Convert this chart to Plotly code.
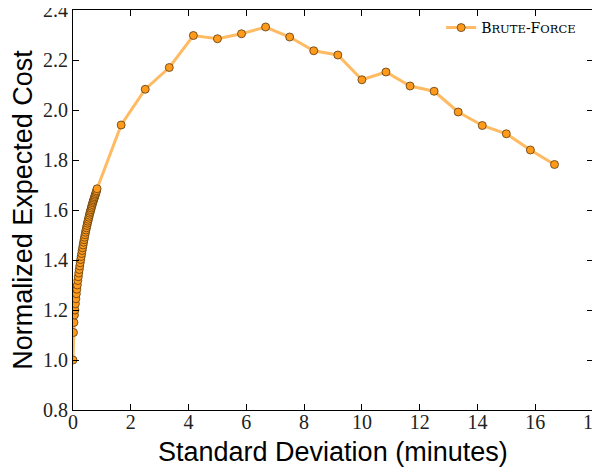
import plotly.graph_objects as go

# Dense region (x in minutes)
x_dense = [0.0, 0.0167, 0.0333, 0.05, 0.0667, 0.0833, 0.1, 0.1167, 0.1333, 0.15,
           0.1667, 0.1833, 0.2, 0.2167, 0.2333, 0.25, 0.2667, 0.2833, 0.3, 0.3167,
           0.3333, 0.35, 0.3667, 0.3833, 0.4, 0.4167, 0.4333, 0.45, 0.4667, 0.4833,
           0.5, 0.5167, 0.5333, 0.55, 0.5667, 0.5833, 0.6, 0.6167, 0.6333, 0.65,
           0.6667, 0.6833, 0.7, 0.7167, 0.7333, 0.75, 0.7667, 0.7833, 0.8, 0.8167, 0.8333]
y_dense = [1.000, 1.110, 1.150, 1.180, 1.200, 1.225, 1.245, 1.265, 1.283, 1.300,
           1.318, 1.333, 1.348, 1.362, 1.376, 1.389, 1.402, 1.414, 1.426, 1.438,
           1.449, 1.460, 1.471, 1.481, 1.491, 1.501, 1.511, 1.520, 1.529, 1.538,
           1.547, 1.555, 1.563, 1.571, 1.579, 1.587, 1.594, 1.601, 1.608, 1.615,
           1.622, 1.629, 1.635, 1.641, 1.647, 1.653, 1.659, 1.665, 1.671, 1.677, 1.685]
# Sparse region
x_sparse = [1.667, 2.5, 3.333, 4.167, 5.0, 5.833, 6.667, 7.5, 8.333, 9.167,
            10.0, 10.833, 11.667, 12.5, 13.333, 14.167, 15.0, 15.833, 16.667]
y_sparse = [1.940, 2.083, 2.170, 2.298, 2.285, 2.305, 2.332, 2.292, 2.237, 2.220,
            2.121, 2.152, 2.096, 2.075, 1.992, 1.938, 1.905, 1.840, 1.782]

x_all = x_dense + x_sparse
y_all = y_dense + y_sparse

x_ticks = [0, 2, 4, 6, 8, 10, 12, 14, 16, 18]
y_ticks = [0.8, 1.0, 1.2, 1.4, 1.6, 1.8, 2.0, 2.2, 2.4]

x_title = "Standard Deviation (minutes)"
y_title = "Normalized Expected Cost"

legend_name = ('B<span style="font-size:11.5px">RUTE</span>-F'
               '<span style="font-size:11.5px">ORCE</span>')

fig = go.Figure()
fig.add_trace(go.Scatter(
    x=x_all, y=y_all, mode="lines+markers", name=legend_name,
    line=dict(color="rgba(255,170,60,0.8)", width=3),
    marker=dict(color="#FF9A1A", size=8, line=dict(color="#5a3a10", width=0.8)),
))

axis_common = dict(
    showgrid=False, zeroline=False, showline=True, linecolor="black", linewidth=1.2,
    mirror="ticks", ticks="inside", ticklen=6, tickwidth=1, tickcolor="black",
    tickfont=dict(family="Liberation Serif", size=20, color="#222"),
    automargin=False, ticklabeloverflow="allow",
)
fig.update_xaxes(range=[0, 18], tickvals=x_ticks,
                 ticktext=[str(v) for v in x_ticks],
                 ticklabelstandoff=-6,
                 **axis_common)
fig.update_yaxes(range=[0.8, 2.4], tickvals=y_ticks,
                 ticktext=[f"{v:.1f}" for v in y_ticks],
                 title=dict(text=y_title,
                            font=dict(family="Liberation Sans", size=27, color="black"),
                            standoff=5),
                 **axis_common)

fig.add_annotation(text=x_title, xref="paper", yref="paper", x=0.5, y=-0.062,
                   xanchor="center", yanchor="top", showarrow=False,
                   font=dict(family="Liberation Sans", size=27, color="black"))

# the page body adds an 8px offset; margins compensate so the plot area sits at 73..593 x 10..410
fig.update_layout(
    width=600, height=469,
    margin=dict(l=65, r=15, t=2, b=67),
    paper_bgcolor="white", plot_bgcolor="white",
    showlegend=True,
    legend=dict(x=0.708, y=0.995, xanchor="left", yanchor="top",
                bgcolor="rgba(255,255,255,0)", borderwidth=0,
                font=dict(family="DejaVu Serif", size=14, color="black")),
)

fig.write_html("out.html")
